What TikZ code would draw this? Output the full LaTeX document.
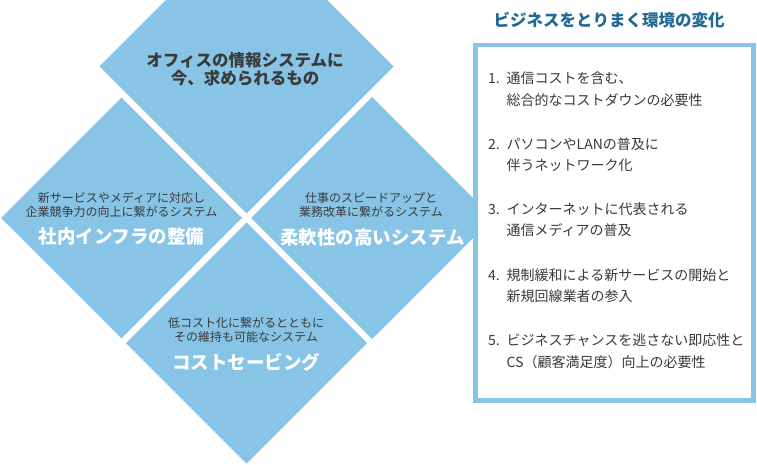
\documentclass[tikz,border=0pt]{standalone}
\usepackage{fontspec}
\setmainfont{Noto Sans CJK JP}
\definecolor{dblue}{HTML}{87C4E6}
\definecolor{txtgray}{HTML}{3A3A3A}
\definecolor{headblue}{HTML}{1F6A96}
\tikzset{
  tile/.style={fill=dblue, draw=none},
  subtxt/.style={text=txtgray, align=center, inner sep=0pt,
    font=\fontsize{12pt}{13.8pt}\selectfont},
  maintxt/.style={text=white, inner sep=0pt,
    font=\fontsize{18.5pt}{20pt}\selectfont\bfseries},
  toptxt/.style={text=txtgray, align=center, inner sep=0pt,
    font=\fontsize{16.5pt}{17.8pt}\selectfont\bfseries},
  itemtxt/.style={text=txtgray, align=left, inner sep=0pt, anchor=west,
    font=\fontsize{14pt}{21.5pt}\selectfont},
  headtxt/.style={text=headblue, inner sep=0pt,
    font=\fontsize{16.5pt}{18pt}\selectfont\bfseries},
  envbox/.style={draw=dblue, line width=4.5pt, fill=white}
}
\newcommand{\num}[1]{\makebox[18.5pt][l]{#1}}
\begin{document}
\begin{tikzpicture}[x=1pt,y=-1pt]
\useasboundingbox (0,0) rectangle (757,465);
% diamonds
\fill[tile] (166,0) -- (327,0) -- (393.5,66.5) -- (246.5,213.5) -- (99.5,66.5) -- cycle;
\fill[tile] (121.5,97.75) -- (242,218) -- (121.5,338.25) -- (1,218) -- cycle;
\fill[tile] (372,97) -- (493,218) -- (372,339) -- (251,218) -- cycle;
\fill[tile] (246.5,222.5) -- (367,343) -- (246.5,463.5) -- (126,343) -- cycle;
% diamond texts
\node[toptxt] (top) at (245,69.5) {オフィスの情報システムに\\今、求められるもの};
\node[subtxt] (lsub) at (121.5,205) {新サービスやメディアに対応し\\企業競争力の向上に繋がるシステム};
\node[maintxt] (lmain) at (121.5,236.7) {社内インフラの整備};
\node[subtxt] (rsub) at (371,205) {仕事のスピードアップと\\業務改革に繋がるシステム};
\node[maintxt] (rmain) at (372.5,237) {柔軟性の高いシステム};
\node[subtxt] (bsub) at (246,329.7) {低コスト化に繋がるとともに\\その維持も可能なシステム};
\node[maintxt] (bmain) at (246,362.7) {コストセービング};
% environment box
\draw[envbox] (475.5,45) rectangle (753.7,400.3);
\node[headtxt] (head) at (609,20.5) {ビジネスをとりまく環境の変化};
\node[itemtxt] (i1) at (488,89) {\num{1.}通信コストを含む、\\\hspace*{18.5pt}総合的なコストダウンの必要性};
\node[itemtxt] (i2) at (488,154.5) {\num{2.}パソコンやLANの普及に\\\hspace*{18.5pt}伴うネットワーク化};
\node[itemtxt] (i3) at (488,219.5) {\num{3.}インターネットに代表される\\\hspace*{18.5pt}通信メディアの普及};
\node[itemtxt] (i4) at (488,285.5) {\num{4.}規制緩和による新サービスの開始と\\\hspace*{18.5pt}新規回線業者の参入};
\node[itemtxt] (i5) at (488,351.5) {\num{5.}ビジネスチャンスを逃さない即応性と\\\hspace*{18.5pt}CS（顧客満足度）向上の必要性};
\end{tikzpicture}
\end{document}
